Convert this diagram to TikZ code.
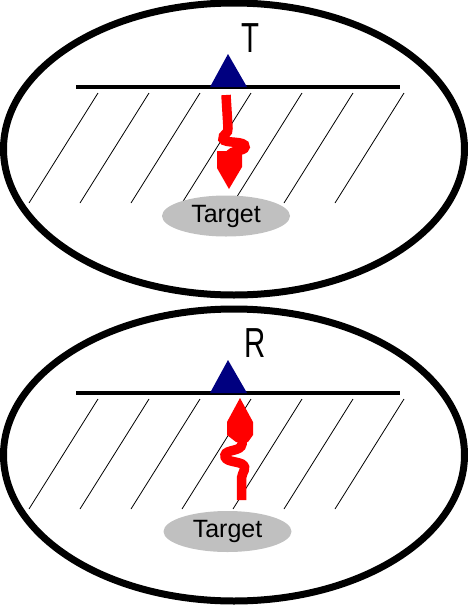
\documentclass[tikz,border=0pt]{standalone}
\usepackage{fontspec}
\setmainfont{Liberation Sans}
\usepackage{graphicx}
\usepackage{tikz}
\usetikzlibrary{positioning}
\usetikzlibrary{shapes.geometric}
\definecolor{probeblue}{HTML}{000080}
\definecolor{targetgrey}{HTML}{C0C0C0}

\begin{document}
\begin{tikzpicture}[x=1pt, y=-1pt,
		frame/.style={line width=7pt},
		ground/.style={line width=3.5pt},
		hatch/.style={line width=0.8pt},
		wave/.style={red, line width=9.5pt},
		head/.style={fill=red},
		probe/.style={fill=probeblue},
		target/.style={ellipse, fill=targetgrey, minimum width=128pt, minimum height=41pt, inner sep=0pt, font=\fontsize{25}{30}\selectfont},
		letter/.style={inner sep=0pt, font=\fontsize{42}{50}\selectfont}]
		\useasboundingbox (0,0) rectangle (468,606);
		\foreach \oy in {0,306} {
			\draw [frame] (234,149+\oy) ellipse [x radius=230.5, y radius=146];
			\foreach \i in {0,...,6} {
				\draw [hatch] (98+51*\i,93+\oy) -- (29+51*\i,203+\oy);
			}
			\draw [ground] (76,87+\oy) -- (400,87+\oy);
			\fill [probe] (210,87+\oy) -- (228,54+\oy) -- (247,87+\oy) -- cycle;
		}
		\node [target] (echo) at (226,216) {Target};
		\node [target] (source) at (227.5,531.5) {Target};
		\node [letter] (tx) at (250.5,38) {\scalebox{0.7}[1]{T}};
		\node [letter] (rx) at (255,343.5) {\scalebox{0.7}[1]{R}};
		% transmitted pulse, going down
		\draw [wave] (226,95) -- (228,128) .. controls (229,134) and (222,134) .. (223,139) .. controls (224,144) and (246,140) .. (245,147) .. controls (244,152) and (232,149) .. (229,156);
		\fill [head] (217,151) -- (242,151) -- (242,167) -- (229,189) -- (217,168) -- cycle;
		% echo, coming back up
		\fill [head] (240,398) -- (253,422) -- (253,435) -- (248,442) -- (236,442) -- (227,435) -- (227,422) -- cycle;
		\draw [wave] (241.5,500) -- (241.5,478) .. controls (242,472) and (248,468) .. (242,464) .. controls (236,461) and (224,462) .. (225,455) .. controls (226,449) and (241,452) .. (242,444) -- (242,438);
\end{tikzpicture}
\end{document}
